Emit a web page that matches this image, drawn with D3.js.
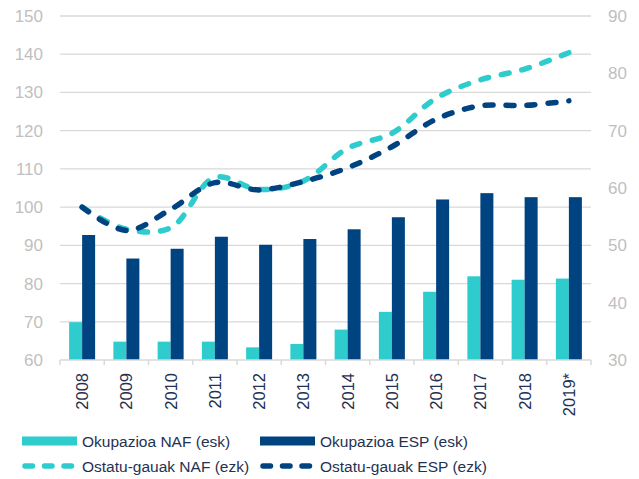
<!DOCTYPE html>
<html><head><meta charset="utf-8">
<script src="https://cdn.jsdelivr.net/npm/d3@7"></script>
<style>body{margin:0;background:#fff}svg{display:block;font-family:"Liberation Sans",Arial,sans-serif}</style>
</head><body><svg id="c" width="639" height="479"></svg>
<script>
const years = ["2008","2009","2010","2011","2012","2013","2014","2015","2016","2017","2018","2019*"];
const occNAF = [36.6,33.2,33.2,33.2,32.2,32.8,35.3,38.4,41.9,44.6,44.0,44.2];
const occESP = [51.8,47.7,49.4,51.5,50.1,51.1,52.8,54.9,58.0,59.1,58.4,58.4];
const nightsNAF = [100,94.2,94.6,107.8,104.6,106.8,115.4,119.3,128.5,133.3,136.1,140.4];
const nightsESP = [100,93.9,99.4,106.4,104.5,106.7,110.3,115.8,123.0,126.5,126.6,127.8];
const leftTicks = [60,70,80,90,100,110,120,130,140,150];
const rightTicks = [30,40,50,60,70,80,90];
const legendItems = [
  {label:"Okupazioa NAF (esk)", color:"#2ecccc", type:"bar"},
  {label:"Okupazioa ESP (esk)", color:"#004381", type:"bar"},
  {label:"Ostatu-gauak NAF (ezk)", color:"#2ecccc", type:"line"},
  {label:"Ostatu-gauak ESP (ezk)", color:"#004381", type:"line"}
];
const cNAF="#2ecccc", cESP="#004381", grid="#d9d9d9", tickCol="#bfbfbf", txt="#1f3251";

const svg = d3.select("#c");
const L=60, R=591, T=16, B=360;
const x = d3.scaleBand().domain(years).range([L,R]);
const yL = d3.scaleLinear().domain([60,150]).range([B,T]);
const yR = d3.scaleLinear().domain([30,90]).range([B,T]);

svg.append("g").selectAll("line").data(leftTicks.slice(1)).join("line")
  .attr("x1",L).attr("x2",R).attr("y1",d=>yL(d)).attr("y2",d=>yL(d))
  .attr("stroke",grid).attr("stroke-width",1.3);

svg.append("g").selectAll("text").data(leftTicks).join("text")
  .attr("x",43).attr("y",d=>yL(d)+6).attr("text-anchor","end")
  .attr("font-size",17).attr("fill",tickCol).text(d=>d);
svg.append("g").selectAll("text").data(rightTicks).join("text")
  .attr("x",608).attr("y",d=>yR(d)+6).attr("text-anchor","start")
  .attr("font-size",17).attr("fill",tickCol).text(d=>d);

const bw = 13;
svg.append("g").selectAll("rect").data(years).join("rect")
  .attr("x",(d)=>x(d)+x.bandwidth()/2-bw).attr("width",bw)
  .attr("y",(d,i)=>yR(occNAF[i])).attr("height",(d,i)=>B-yR(occNAF[i]))
  .attr("fill",cNAF);
svg.append("g").selectAll("rect").data(years).join("rect")
  .attr("x",(d)=>x(d)+x.bandwidth()/2).attr("width",bw)
  .attr("y",(d,i)=>yR(occESP[i])).attr("height",(d,i)=>B-yR(occESP[i]))
  .attr("fill",cESP);

svg.append("line").attr("x1",L).attr("x2",R).attr("y1",B).attr("y2",B)
  .attr("stroke",grid).attr("stroke-width",1.5);
const bounds = years.map(d=>x(d)).concat([R]);
svg.append("g").selectAll("line").data(bounds).join("line")
  .attr("x1",d=>d).attr("x2",d=>d).attr("y1",B).attr("y2",B+5)
  .attr("stroke",grid).attr("stroke-width",1.5);
svg.append("g").selectAll("text").data(years).join("text")
  .attr("transform",d=>`translate(${x(d)+x.bandwidth()/2+6},373) rotate(-90)`)
  .attr("text-anchor","end").attr("font-size",16.5).attr("fill",txt).text(d=>d);

const line = d3.line().x((d,i)=>x(years[i])+x.bandwidth()/2).y(d=>yL(d)).curve(d3.curveCatmullRom.alpha(0.5));
[[nightsNAF,cNAF],[nightsESP,cESP]].forEach(([data,col])=>{
  svg.append("path").attr("d",line(data)).attr("fill","none").attr("stroke",col)
    .attr("stroke-width",5.5).attr("stroke-linecap","round").attr("stroke-dasharray","8,13");
});

const pos = [[22,441],[260,441],[22,466],[260,466]];
legendItems.forEach((it,i)=>{
  const [lx,ly]=pos[i];
  const g=svg.append("g");
  if(it.type==="bar"){
    g.append("rect").attr("x",lx).attr("y",ly-4.5).attr("width",55).attr("height",9).attr("fill",it.color);
  } else {
    g.append("line").attr("x1",lx+3).attr("x2",lx+52).attr("y1",ly).attr("y2",ly)
      .attr("stroke",it.color).attr("stroke-width",5.5).attr("stroke-linecap","round").attr("stroke-dasharray","7.5,12");
  }
  g.append("text").attr("x",lx+60).attr("y",ly+5.5).attr("font-size",15.5).attr("fill",txt).text(it.label);
});
</script></body></html>
